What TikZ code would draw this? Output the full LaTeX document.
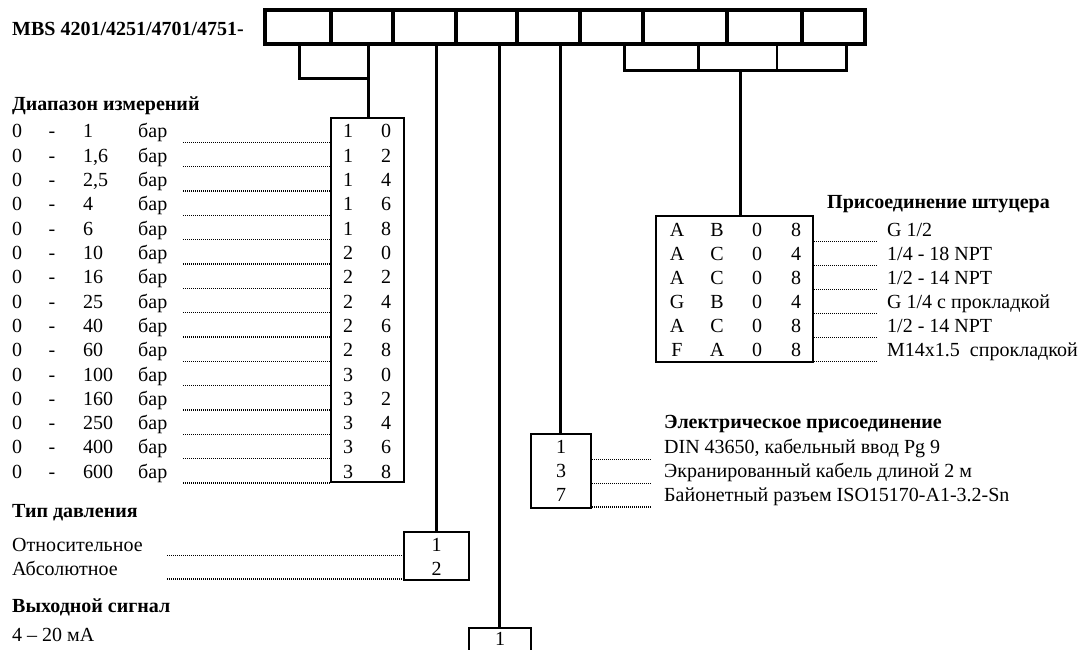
\documentclass[tikz,border=0pt]{standalone}
\usepackage{fontspec}
\setmainfont{Liberation Serif}
\begin{document}
\begin{tikzpicture}[x=1pt,y=-1pt,
  font=\fontsize{20pt}{24pt}\selectfont,
  line join=miter,
  hbox/.style={draw, line width=3.5pt, inner sep=0pt, minimum height=34pt},
  tbox/.style={draw, line width=2.9pt, inner sep=0pt},
  conn/.style={line width=3pt},
  thinconn/.style={line width=1.7pt},
  dots/.style={line width=1.3pt, dash pattern=on 1pt off 1pt},
  txt/.style={inner sep=0pt, anchor=base west},
  ctxt/.style={inner sep=0pt, anchor=base},
  hdr/.style={inner sep=0pt, anchor=base west, font=\fontsize{20pt}{24pt}\selectfont\bfseries}]
\clip (0,0) rectangle (1085,650);
\fill[white] (0,0) rectangle (1085,650);

% title
\node[hdr] (title) at (12,36) {MBS 4201/4251/4701/4751-};

% header boxes
\foreach \a/\b [count=\i] in {265/331,331/393,393/456,456/517,517/580,580/643,643/727,727/802,802/865}
  \node[hbox, minimum width={\b-\a}] (h\i) at ({(\a+\b)/2},27) {};

% table boxes
\node[tbox, minimum width=73pt, minimum height=364pt] (range) at (367.5,300) {};
\node[tbox, minimum width=157pt, minimum height=146pt] (fit) at (734.5,289) {};
\node[tbox, minimum width=60pt, minimum height=74pt] (elec) at (561,471) {};
\node[tbox, minimum width=65pt, minimum height=48pt] (ptype) at (436.5,556) {};
\node[tbox, minimum width=62pt, minimum height=50pt] (out) at (500,653) {};

% left bracket
\coordinate (bl) at (299,79);
\coordinate (br) at (368,79);
\draw[conn] (bl|-h1.south) -- (bl) -- (br) -- (br|-h2.south);
\draw[conn] (br) -- (br|-range.north);

% right bracket
\coordinate (rl) at (624,71);
\coordinate (rr) at (846,71);
\coordinate (rm) at (740,71);
\draw[conn] (rl|-h7.south) -- (rl) -- (rr) -- (rr|-h9.south);
\draw[conn] (698,44) -- (698,71);
\draw[thinconn] (777,44) -- (777,71);
\draw[conn] (rm) -- (rm|-fit.north);

% single connectors
\coordinate (t3) at (436,44);
\coordinate (t4) at (499,44);
\coordinate (t5) at (560,44);
\draw[conn] (t3) -- (t3|-ptype.north);
\draw[conn] (t4) -- (t4|-out.north);
\draw[conn] (t5) -- (t5|-elec.north);

% measuring range
\node[hdr] (hrange) at (12,111) {Диапазон измерений};
\foreach \v/\p/\q [count=\i] in {1/1/0, 1{,}6/1/2, 2{,}5/1/4, 4/1/6, 6/1/8, 10/2/0, 16/2/2, 25/2/4, 40/2/6, 60/2/8, 100/3/0, 160/3/2, 250/3/4, 400/3/6, 600/3/8}{
  \pgfmathsetmacro{\yb}{137.7+24.33*(\i-1)}
  \pgfmathsetmacro{\yd}{\yb+4.6}
  \node[txt] (z\i) at (12,\yb) {0};
  \node[ctxt] (m\i) at (52,\yb) {-};
  \node[txt] (v\i) at (83,\yb) {\v};
  \node[txt] (u\i) at (138,\yb) {бар};
  \node[ctxt] (c\i) at (348,\yb) {\p};
  \node[ctxt] (d\i) at (386,\yb) {\q};
  \coordinate (ls\i) at (183,\yd);
  \draw[dots] (ls\i) -- (ls\i-|range.west);
}

% process connection
\node[hdr] (hfit) at (827,208) {Присоединение штуцера};
\foreach \a/\b/\c/\d/\t [count=\i] in {A/B/0/8/{G 1/2}, A/C/0/4/{1/4 - 18 NPT}, A/C/0/8/{1/2 - 14 NPT}, G/B/0/4/{G 1/4 с прокладкой}, A/C/0/8/{1/2 - 14 NPT}, F/A/0/8/{M14x1.5\ \ спрокладкой}}{
  \pgfmathsetmacro{\yb}{236.7+24*(\i-1)}
  \pgfmathsetmacro{\yd}{\yb+4.5}
  \node[ctxt] (fa\i) at (677,\yb) {\a};
  \node[ctxt] (fb\i) at (717,\yb) {\b};
  \node[ctxt] (fc\i) at (757,\yb) {\c};
  \node[ctxt] (fd\i) at (796,\yb) {\d};
  \node[txt] (ft\i) at (887,\yb) {\t};
  \coordinate (fe\i) at (877,\yd);
  \draw[dots] (fe\i-|fit.east) -- (fe\i);
}

% electrical connection
\node[hdr] (helec) at (664,428) {Электрическое присоединение};
\foreach \n/\t/\dy [count=\i] in {1/{DIN 43650, кабельный ввод Pg 9}/6.2, 3/{Экранированный кабель длиной 2 м}/6, 7/{Байонетный разъем ISO15170-A1-3.2-Sn}/5.7}{
  \pgfmathsetmacro{\yb}{453.3+24*(\i-1)}
  \pgfmathsetmacro{\yd}{\yb+\dy}
  \node[ctxt] (en\i) at (561,\yb) {\n};
  \node[txt] (et\i) at (664,\yb) {\t};
  \coordinate (ee\i) at (652,\yd);
  \draw[dots] (ee\i-|elec.east) -- (ee\i);
}

% pressure type
\node[hdr] (hptype) at (12,517) {Тип давления};
\node[txt] (pt1) at (12,551) {Относительное};
\node[txt] (pt2) at (12,575) {Абсолютное};
\node[ctxt] (pn1) at (436.5,551.5) {1};
\node[ctxt] (pn2) at (436.5,575) {2};
\coordinate (ps1) at (167,555.5);
\coordinate (ps2) at (167,579);
\draw[dots] (ps1) -- (ps1-|ptype.west);
\draw[dots] (ps2) -- (ps2-|ptype.west);

% output signal
\node[hdr] (hout) at (12,612) {Выходной сигнал};
\node[txt] (o1) at (12,641) {4 – 20 мА};
\node[ctxt] (on1) at (500,645.5) {1};
\end{tikzpicture}
\end{document}
